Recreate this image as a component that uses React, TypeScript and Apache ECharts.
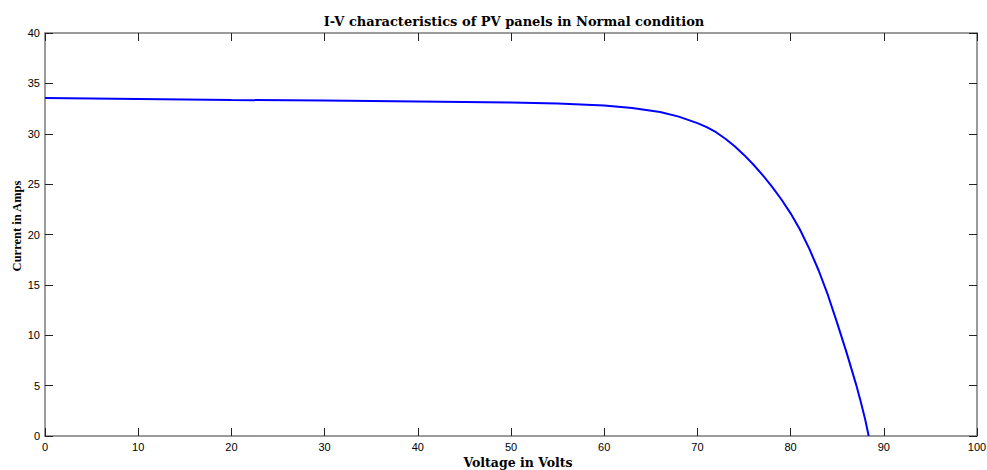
import React, { useEffect, useRef } from "react";
import * as echarts from "echarts";

const voltage = [0, 10, 20, 30, 40, 50, 55, 60, 63, 66, 68, 70, 71, 72, 73, 74, 75, 76, 77, 78, 79, 80, 81, 82, 83, 84, 85, 86, 87, 87.5, 88, 88.38];
const current = [33.55, 33.45, 33.35, 33.3, 33.2, 33.1, 33.0, 32.8, 32.55, 32.15, 31.7, 31.05, 30.65, 30.15, 29.5, 28.75, 27.9, 26.95, 25.9, 24.75, 23.5, 22.1, 20.5, 18.6, 16.45, 14.0, 11.2, 8.3, 5.2, 3.5, 1.65, 0];

const titleText = "I-V characteristics of PV panels in Normal condition";
const xName = "Voltage in Volts";
const yName = "Current in Amps";

export default function App() {
  const ref = useRef<HTMLDivElement>(null);
  useEffect(() => {
    if (!ref.current) return;
    const chart = echarts.init(ref.current, null, { renderer: "svg" });
    const tickStyle = { show: true, inside: true, length: 8, lineStyle: { color: "#222", width: 1 } };
    const lineStyle = { show: true, onZero: false, lineStyle: { color: "#7a7a7a", width: 1.5 } };
    const labelStyle = { color: "#000", fontSize: 11, fontFamily: "Liberation Sans, Arial, sans-serif" };
    const serifBold = { fontFamily: "DejaVu Serif, serif", fontWeight: "bold" as const, fontSize: 13, color: "#000" };
    chart.setOption({
      animation: false,
      backgroundColor: "#fff",
      title: {
        text: titleText,
        left: 509,
        top: 10,
        textAlign: "center",
        textStyle: serifBold,
      },
      graphic: [
        {
          type: "text",
          x: 518,
          y: 462,
          style: { text: xName, textAlign: "center", textVerticalAlign: "middle", font: "bold 12.5px 'DejaVu Serif', serif", fill: "#000" },
        },
        {
          type: "text",
          x: 17,
          y: 226,
          rotation: Math.PI / 2,
          style: { text: yName, textAlign: "center", textVerticalAlign: "middle", font: "bold 12.5px 'Liberation Serif', serif", fill: "#000" },
        },
      ],
      grid: { left: 45, right: 10, top: 33, bottom: 34, containLabel: false, outerBoundsMode: "none" },
      xAxis: [
        {
          type: "value",
          min: 0,
          max: 100,
          interval: 10,
          position: "bottom",
          axisLine: lineStyle,
          axisTick: tickStyle,
          splitLine: { show: false },
          axisLabel: { ...labelStyle, margin: 5 },
        },
        {
          type: "value",
          min: 0,
          max: 100,
          interval: 10,
          position: "top",
          axisLine: lineStyle,
          axisTick: tickStyle,
          splitLine: { show: false },
          axisLabel: { show: false },
        },
      ],
      yAxis: [
        {
          type: "value",
          min: 0,
          max: 40,
          interval: 5,
          position: "left",
          axisLine: lineStyle,
          axisTick: tickStyle,
          splitLine: { show: false },
          axisLabel: { ...labelStyle, margin: 5 },
        },
        {
          type: "value",
          min: 0,
          max: 40,
          interval: 5,
          position: "right",
          axisLine: lineStyle,
          axisTick: tickStyle,
          splitLine: { show: false },
          axisLabel: { show: false },
        },
      ],
      series: [
        {
          type: "line",
          data: voltage.map((v, i) => [v, current[i]]),
          smooth: false,
          showSymbol: false,
          symbol: "none",
          lineStyle: { color: "#0000ff", width: 2 },
          xAxisIndex: 0,
          yAxisIndex: 0,
        },
      ],
    });
    return () => chart.dispose();
  }, []);
  return (
    <div
      ref={ref}
      style={{ position: "fixed", left: 0, top: 0, width: 987, height: 470, background: "#fff" }}
    />
  );
}
